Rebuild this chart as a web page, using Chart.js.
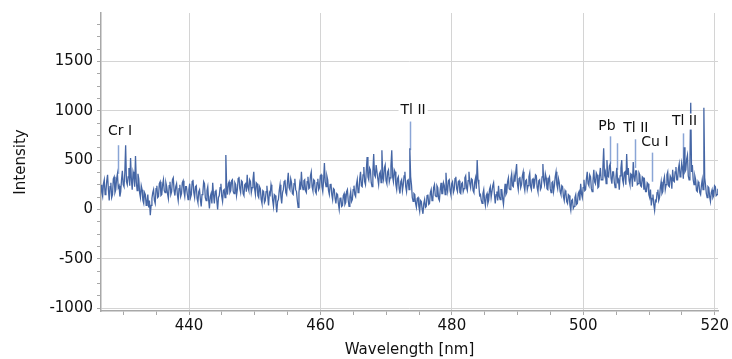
<!DOCTYPE html>
<html>
<head>
<meta charset="utf-8">
<script src="https://cdn.jsdelivr.net/npm/chart.js@4.4.1/dist/chart.umd.min.js"></script>
<style>
  html, body { margin: 0; padding: 0; background: #fff; }
</style>
</head>
<body>
<canvas id="spectrumChart" width="732" height="359"></canvas>
<script>
// spectrum samples, one row per nm (uniform wavelength grid)
const wlStart = 426.6;
const wlStep = 0.125;
const intensity = [
    250, 170, 130, 260, 300, 150, 180, 290,
    350, 200, 90, 230, 270, 120, 150, 310,
    330, 170, 200, 310, 360, 220, 240, 130,
    180, 300, 390, 250, 230, 370, 650, 280,
    250, 330, 420, 240, 520, 300, 200, 380,
    340, 230, 540, 280, 190, 360, 310, 170,
    120, 240, 200, 90, 60, 170, 150, 40,
    80, 150, 20, 90, -60, 40, 110, 170,
    200, 90, 60, 210, 240, 120, 130, 260,
    280, 140, 150, 250, 300, 190, 170, 270,
    230, 160, 110, 240, 280, 150, 180, 300,
    320, 190, 140, 230, 260, 150, 90, 210,
    250, 130, 160, 270, 290, 180, 130, 230,
    230, 160, 100, 200, 260, 120, 150, 280,
    300, 170, 120, 230, 240, 110, 70, 180,
    200, 100, 30, 150, 170, 280, 260, 120,
    90, 190, 230, 100, 10, 130, 160, 60,
    270, 150, 60, 180, 200, 90, 0, 120,
    140, 220, 260, 130, 80, 190, 200, 120,
    550, 230, 150, 260, 280, 170, 190, 290,
    300, 180, 160, 270, 250, 140, 200, 310,
    330, 210, 170, 290, 280, 160, 140, 250,
    260, 180, 350, 220, 190, 300, 280, 170,
    220, 300, 380, 210, 150, 270, 260, 140,
    120, 230, 210, 100, 60, 190, 180, 70,
    90, 180, 240, 130, 40, 170, 150, 250,
    200, 90, 30, 150, 140, 60, -30, 80,
    100, 190, 250, 130, 60, 170, 200, 280,
    300, 170, 150, 280, 370, 220, 200, 310,
    270, 160, 150, 260, 310, 200, 180, 90,
    20, 170, 260, 200, 380, 240, 200, 290,
    300, 190, 170, 280, 330, 210, 220, 340,
    380, 230, 190, 300, 290, 180, 160, 270,
    310, 200, 220, 340, 350, 230, 180, 290,
    470, 280, 230, 340, 300, 190, 150, 250,
    260, 150, 100, 210, 200, 110, 60, 160,
    150, 60, 0, 110, 120, 30, 40, 140,
    160, 50, 70, 180, 200, 90, 30, 130,
    180, 80, 100, 200, 240, 150, 130, 250,
    300, 170, 180, 310, 380, 240, 230, 350,
    430, 280, 250, 390, 530, 330, 300, 420,
    400, 270, 230, 380, 560, 350, 330, 450,
    450, 310, 250, 360, 380, 270, 600, 340,
    300, 420, 450, 290, 260, 380, 400, 280,
    320, 440, 600, 330, 280, 400, 380, 250,
    200, 310, 330, 210, 160, 280, 300, 190,
    250, 340, 380, 230, 180, 290, 300, 200,
    620, 330, 250, 120, 80, 160, 150, 60,
    20, 110, 120, 30, -20, 90, 80, 0,
    -45, 60, 100, 20, 30, 140, 150, 50,
    60, 170, 200, 90, 100, 220, 250, 140,
    130, 240, 220, 110, 90, 200, 270, 160,
    160, 270, 240, 150, 370, 230, 180, 290,
    300, 190, 150, 260, 280, 170, 200, 310,
    330, 210, 180, 280, 290, 170, 160, 260,
    270, 180, 210, 320, 340, 220, 190, 290,
    380, 260, 220, 310, 300, 190, 170, 280,
    320, 210, 500, 300, 250, 140, 150, 90,
    60, 160, 200, 90, 40, 140, 160, 60,
    90, 200, 230, 120, 120, 240, 270, 150,
    60, 150, 180, 90, 240, 130, 100, 200,
    200, 110, 50, 160, 260, 150, 170, 280,
    320, 210, 200, 310, 360, 240, 230, 340,
    280, 380, 460, 260, 200, 310, 330, 220,
    250, 340, 380, 240, 190, 290, 300, 200,
    240, 330, 370, 230, 200, 300, 310, 210,
    260, 350, 340, 220, 180, 290, 300, 200,
    220, 330, 460, 290, 250, 360, 320, 210,
    200, 310, 330, 210, 170, 270, 280, 180,
    240, 330, 380, 250, 210, 310, 270, 180,
    150, 240, 230, 130, 90, 190, 170, 80,
    60, 150, 140, 40, -10, 90, 100, 10,
    30, 120, 150, 50, 60, 160, 180, 90,
    260, 160, 120, 220, 300, 190, 200, 310,
    380, 260, 240, 350, 330, 210, 180, 290,
    400, 280, 260, 370, 350, 220, 230, 340,
    420, 300, 300, 410, 620, 350, 380, 260,
    500, 340, 330, 440, 460, 310, 260, 380,
    380, 270, 220, 330, 420, 280, 300, 200,
    340, 420, 500, 300, 260, 370, 380, 250,
    560, 350, 420, 290, 250, 360, 350, 230,
    480, 330, 280, 390, 390, 250, 260, 370,
    350, 240, 230, 330, 320, 200, 270, 180,
    180, 270, 260, 150, 120, 200, 40, 110,
    150, 50, -10, 90, 80, 170, 200, 90,
    120, 220, 280, 160, 180, 290, 330, 200,
    250, 350, 380, 240, 230, 340, 320, 210,
    400, 290, 280, 380, 430, 300, 300, 410,
    460, 330, 350, 470, 420, 310, 630, 380,
    400, 510, 550, 340, 300, 460, 1080, 380,
    450, 300, 250, 340, 300, 190, 180, 280,
    260, 170, 150, 240, 300, 200, 1030, 320,
    250, 160, 120, 230, 220, 130, 80, 170,
    200, 120, 140, 240, 230, 140, 150, 210
];

// line identification markers
const markerWl     = [429.15, 473.6, 504.0, 505.1, 507.8, 510.5, 515.1];
const markerTop    = [650, 890, 740, 670, 710, 575, 770];
const markerBottom = [360, 600, 460, 400, 420, 280, 470];

const labelText = ['Cr I', 'Tl II', 'Pb', 'Tl II', 'Cu I', 'Tl II'];
const labelWl   = [429.5, 474.1, 503.6, 508.0, 510.9, 515.4];
const labelY    = [790, 1000, 840, 820, 675, 890];

const xMin = 426.6, xMax = 520.5;
const yMin = -1030, yMax = 1990;

const points = intensity.map((v, i) => ({ x: wlStart + i * wlStep, y: v }));

const FONT = '"DejaVu Sans", Verdana, sans-serif';
const gridGray = '#d4d4d4';
const axisGray = '#a8a8a8';

const isMultiple = (v, m) => Math.abs(v / m - Math.round(v / m)) < 1e-6;

const markerPlugin = {
    id: 'markers',
    beforeDatasetsDraw(chart) {
        const { ctx, scales: { x, y } } = chart;
        ctx.save();
        ctx.strokeStyle = '#8aa5d6';
        ctx.lineWidth = 1.5;
        markerWl.forEach((wl, i) => {
            const px = Math.round(x.getPixelForValue(wl)) + 0.5;
            ctx.beginPath();
            ctx.moveTo(px, y.getPixelForValue(markerTop[i]));
            ctx.lineTo(px, y.getPixelForValue(markerBottom[i]));
            ctx.stroke();
        });
        ctx.restore();
    },
    afterDatasetsDraw(chart) {
        const { ctx, scales: { x, y } } = chart;
        ctx.save();
        ctx.font = '14px ' + FONT;
        ctx.textAlign = 'center';
        ctx.textBaseline = 'middle';
        labelText.forEach((t, i) => {
            const px = x.getPixelForValue(labelWl[i]);
            const py = y.getPixelForValue(labelY[i]);
            const w = ctx.measureText(t).width;
            ctx.fillStyle = '#fff';
            ctx.fillRect(px - w / 2 - 2, py - 8, w + 4, 16);
            ctx.fillStyle = '#111';
            ctx.fillText(t, px, py);
        });
        ctx.restore();
    }
};

const ctx = document.getElementById('spectrumChart').getContext('2d');
new Chart(ctx, {
    type: 'line',
    data: {
        datasets: [{
            data: points,
            borderColor: '#4566a5',
            borderWidth: 1.3,
            pointRadius: 0,
            tension: 0,
            fill: false
        }]
    },
    options: {
        responsive: false,
        animation: false,
        devicePixelRatio: 1,
        layout: { padding: { top: 8, right: 14, left: 0, bottom: 0 } },
        plugins: { legend: { display: false }, tooltip: { enabled: false } },
        scales: {
            x: {
                type: 'linear',
                min: xMin,
                max: xMax,
                afterFit(s) { s.height = 48; },
                ticks: {
                    stepSize: 5,
                    includeBounds: false,
                    autoSkip: false,
                    maxRotation: 0,
                    padding: 2,
                    color: '#111',
                    font: { family: FONT, size: 15 },
                    callback: v => (isMultiple(v, 20) ? String(Math.round(v)) : '')
                },
                grid: {
                    color: c => (c.tick && isMultiple(c.tick.value, 20) ? gridGray : 'rgba(0,0,0,0)'),
                    tickColor: axisGray,
                    tickLength: 4,
                    lineWidth: 1
                },
                border: { color: axisGray, width: 1.5 },
                title: {
                    display: true,
                    text: 'Wavelength [nm]',
                    color: '#111',
                    font: { family: FONT, size: 15 },
                    padding: { top: 0, bottom: 0 }
                }
            },
            y: {
                min: yMin,
                max: yMax,
                afterFit(s) { s.width = 101; },
                ticks: {
                    stepSize: 125,
                    includeBounds: false,
                    autoSkip: false,
                    padding: 4,
                    color: '#111',
                    font: { family: FONT, size: 15 },
                    callback: v => (isMultiple(v, 500) ? String(Math.round(v)) : '')
                },
                grid: {
                    color: c => (c.tick && isMultiple(c.tick.value, 500) ? gridGray : 'rgba(0,0,0,0)'),
                    tickColor: axisGray,
                    tickLength: 4,
                    lineWidth: 1
                },
                border: { color: axisGray, width: 1.5 },
                title: {
                    display: true,
                    text: 'Intensity',
                    color: '#111',
                    font: { family: FONT, size: 15 },
                    padding: { top: 12, bottom: 0 }
                }
            }
        }
    },
    plugins: [markerPlugin]
});
</script>
</body>
</html>
